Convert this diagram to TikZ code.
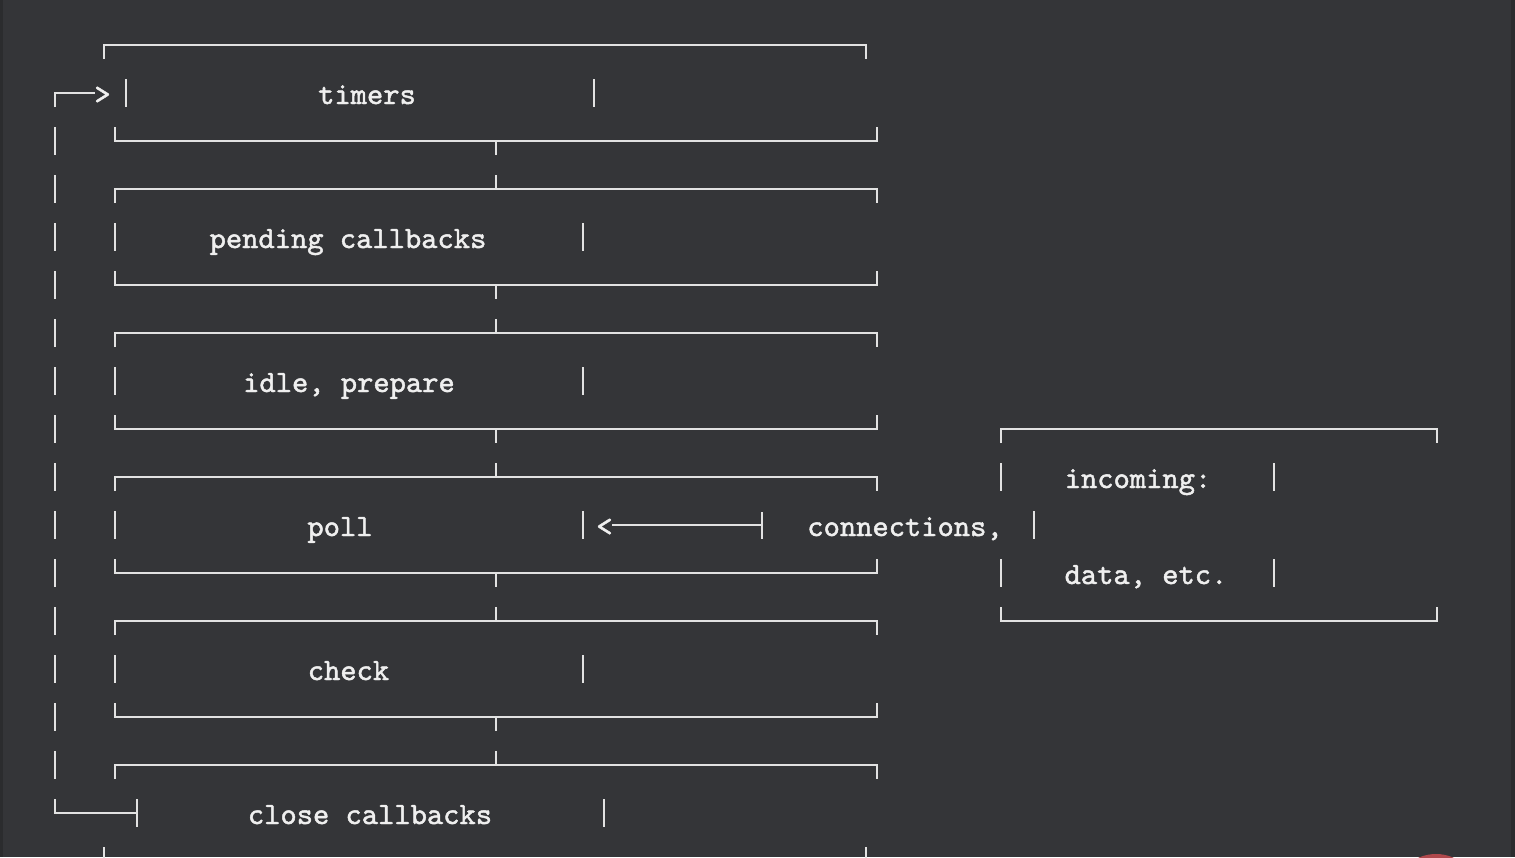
\documentclass[tikz,border=0pt]{standalone}
\usepackage{fontspec}
\newfontfamily\asciifont{lmmono10-regular.otf}[FakeBold=1.5]
\definecolor{termedge}{HTML}{2B2C2E}
\definecolor{termbg}{HTML}{343538}
\definecolor{termink}{HTML}{E2E2E2}
\definecolor{termtext}{HTML}{EFEFEF}
\definecolor{termdot}{HTML}{B0484C}
\tikzset{
  every picture/.style={font=\asciifont\fontsize{15.5}{18}\selectfont,text=termtext},
  rule/.style={draw=termink,line width=1pt},
  phase/.style={anchor=base,inner sep=0pt},
  glyph/.style={anchor=base,inner sep=0pt},
}
\begin{document}
\begin{tikzpicture}[x=0.5pt,y=-0.5pt]
  \fill[termedge] (0,0) rectangle (1515,857);
  \fill[termbg] (3,0) rectangle (1511,857);
  \path[use as bounding box] (0,0) rectangle (1515,857);
  \begin{scope}
  \clip (0,0) rectangle (1515,857);
  \fill[termdot] (1436,897) circle (43);
  % outer frame, cut by the screen at the bottom
  \draw[rule] (104,59) |- (866,45) -- (866,59);
  \draw[rule] (104,847) |- (866,861) -- (866,847);
  % bottom and top edges of the stacked phases
  \foreach \k in {1,4,7,10,13} {
    \pgfmathsetmacro{\ly}{93+48*\k}
    \draw[rule] (115,{\ly-14}) |- (877,\ly) -- (877,{\ly-14});
    \draw[rule] (496,\ly) -- (496,{\ly+14});
  }
  \foreach \k in {2,5,8,11,14} {
    \pgfmathsetmacro{\ly}{93+48*\k}
    \draw[rule] (115,{\ly+14}) |- (877,\ly) -- (877,{\ly+14});
    \draw[rule] (496,\ly) -- (496,{\ly-14});
  }
  % side bars of the text rows
  \foreach \x/\k in {126/0,594/0,115/3,583/3,115/6,583/6,115/9,583/9,
      115/12,583/12,604/15,1001/8,1274/8,1034/9,1001/10,1274/10} {
    \draw[rule] (\x,{79+48*\k}) -- (\x,{107+48*\k});
  }
  % incoming box
  \draw[rule] (1001,443) |- (1437,429) -- (1437,443);
  \draw[rule] (1001,607) |- (1437,621) -- (1437,607);
  % loop back from close callbacks to timers
  \foreach \k in {1,...,14} {
    \draw[rule] (55,{79+48*\k}) -- (55,{107+48*\k});
  }
  \coordinate (loopin) at (95,93);
  \coordinate (loopout) at (137,813);
  \draw[rule] (55,107) |- (loopin);
  \draw[rule] (55,799) |- (loopout);
  \draw[rule] (137,799) -- (137,827);
  \node[glyph] (loophead) at (102.5,104) {>};
  % phases
  \node[phase] (timers) at (367,104) {timers};
  \node[phase] (pending) at (348,248) {pending callbacks};
  \node[phase] (idle) at (349,392) {idle, prepare};
  \node[phase] (poll) at (340,536) {poll};
  \node[phase] (check) at (348.5,680) {check};
  \node[phase] (close) at (370,824) {close callbacks};
  % incoming work into poll
  \node[phase] (incoming) at (1138,488) {incoming:};
  \node[phase] (conn) at (905,536) {connections,};
  \node[phase] (data) at (1146,584) {data, etc.};
  \node[glyph] (pollhead) at (604.5,536) {<};
  \coordinate (pollport) at (612,525);
  \coordinate (connbar) at (762,525);
  \draw[rule] (connbar) -- (pollport);
  \draw[rule] (762,512) -- (762,539);
  \end{scope}
\end{tikzpicture}
\end{document}
